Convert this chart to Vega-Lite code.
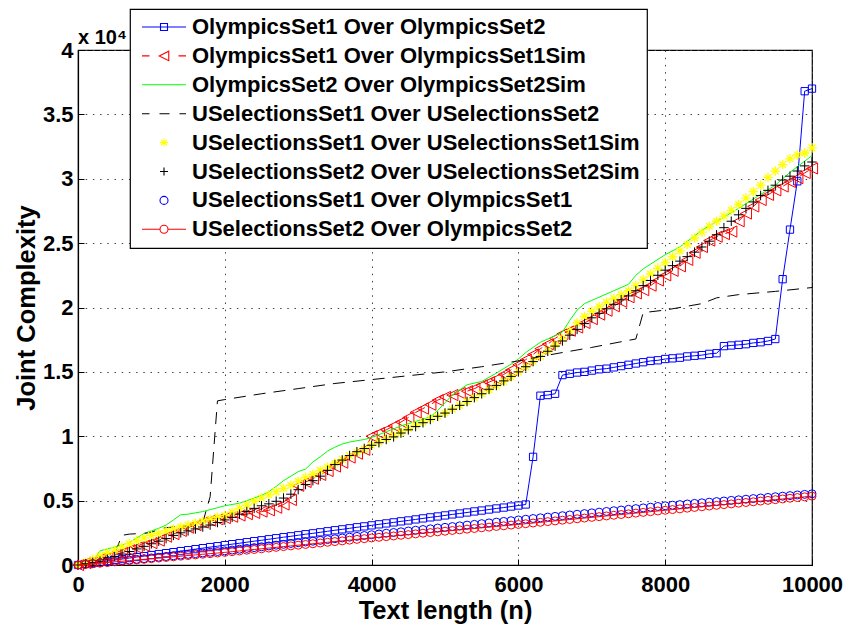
{
"$schema":"https://vega.github.io/schema/vega-lite/v6.json",
"width":734,"height":515,
"autosize":"none",
"padding":{"left":78,"top":50,"right":32,"bottom":60},
"background":"white",
"title":{"text":"x 10⁴","anchor":"start","frame":"group","fontSize":20,"fontWeight":"bold","font":"Liberation Sans","color":"black","offset":-56,"baseline":"alphabetic"},
"config":{
 "view":{"stroke":"black","strokeWidth":1.2},
 "axis":{"labelFont":"Liberation Sans","labelFontWeight":"bold","labelFontSize":22,"labelColor":"black","labelFlush":false,"titleFont":"Liberation Sans","titleFontWeight":"bold","titleFontSize":25.5,"titleColor":"black","domainColor":"black","domainWidth":1.2,"tickColor":"black","tickSize":-6,"gridColor":"#444","gridDash":[1.5,5.7],"gridWidth":1},
 "legend":{"orient":"none","legendX":52,"legendY":-41,"padding":7,"fillColor":"white","strokeColor":"black","strokeWidth":1.2,"labelFont":"Liberation Sans","labelFontSize":22,"labelFontWeight":"bold","labelColor":"black","labelAlign":"left","labelOffset":17,"symbolOffset":16,"symbolSize":100,"symbolStrokeWidth":1.1,"rowPadding":6.9,"labelLimit":1000}
},
"datasets":{
"a":[{"x":0,"y":0},{"x":100,"y":80},{"x":200,"y":150},{"x":300,"y":230},{"x":400,"y":310},{"x":500,"y":390},{"x":600,"y":460},{"x":700,"y":540},{"x":800,"y":620},{"x":900,"y":690},{"x":1000,"y":770},{"x":1100,"y":850},{"x":1200,"y":920},{"x":1300,"y":1000},{"x":1400,"y":1080},{"x":1500,"y":1150},{"x":1600,"y":1230},{"x":1700,"y":1310},{"x":1800,"y":1390},{"x":1900,"y":1460},{"x":2000,"y":1540},{"x":2100,"y":1620},{"x":2200,"y":1690},{"x":2300,"y":1770},{"x":2400,"y":1850},{"x":2500,"y":1920},{"x":2600,"y":2000},{"x":2700,"y":2080},{"x":2800,"y":2160},{"x":2900,"y":2230},{"x":3000,"y":2310},{"x":3100,"y":2390},{"x":3200,"y":2460},{"x":3300,"y":2540},{"x":3400,"y":2620},{"x":3500,"y":2700},{"x":3600,"y":2770},{"x":3700,"y":2850},{"x":3800,"y":2930},{"x":3900,"y":3000},{"x":4000,"y":3080},{"x":4100,"y":3160},{"x":4200,"y":3230},{"x":4300,"y":3310},{"x":4400,"y":3390},{"x":4500,"y":3460},{"x":4600,"y":3540},{"x":4700,"y":3620},{"x":4800,"y":3700},{"x":4900,"y":3770},{"x":5000,"y":3850},{"x":5100,"y":3930},{"x":5200,"y":4000},{"x":5300,"y":4080},{"x":5400,"y":4160},{"x":5500,"y":4230},{"x":5600,"y":4310},{"x":5700,"y":4390},{"x":5800,"y":4460},{"x":5900,"y":4540},{"x":6000,"y":4620},{"x":6100,"y":4700},{"x":6200,"y":8400},{"x":6300,"y":13150},{"x":6400,"y":13200},{"x":6500,"y":13300},{"x":6600,"y":14750},{"x":6700,"y":14850},{"x":6800,"y":14950},{"x":6900,"y":15000},{"x":7000,"y":15100},{"x":7100,"y":15200},{"x":7200,"y":15250},{"x":7300,"y":15350},{"x":7400,"y":15450},{"x":7500,"y":15550},{"x":7600,"y":15650},{"x":7700,"y":15750},{"x":7800,"y":15850},{"x":7900,"y":15900},{"x":8000,"y":16000},{"x":8100,"y":16050},{"x":8200,"y":16100},{"x":8300,"y":16200},{"x":8400,"y":16250},{"x":8500,"y":16300},{"x":8600,"y":16400},{"x":8700,"y":16450},{"x":8800,"y":17000},{"x":8900,"y":17050},{"x":9000,"y":17100},{"x":9100,"y":17150},{"x":9200,"y":17250},{"x":9300,"y":17300},{"x":9400,"y":17400},{"x":9500,"y":17550},{"x":9600,"y":22200},{"x":9700,"y":26050},{"x":9800,"y":29800},{"x":9900,"y":36800},{"x":10000,"y":37000}],
"b":[{"x":0,"y":0},{"x":100,"y":150},{"x":200,"y":300},{"x":300,"y":450},{"x":400,"y":600},{"x":500,"y":800},{"x":600,"y":950},{"x":700,"y":1150},{"x":800,"y":1350},{"x":900,"y":1500},{"x":1000,"y":1700},{"x":1100,"y":1900},{"x":1200,"y":2200},{"x":1300,"y":2400},{"x":1400,"y":2650},{"x":1500,"y":2900},{"x":1600,"y":3100},{"x":1700,"y":3300},{"x":1800,"y":3450},{"x":1900,"y":3550},{"x":2000,"y":3650},{"x":2100,"y":3750},{"x":2200,"y":3850},{"x":2300,"y":3950},{"x":2400,"y":4050},{"x":2500,"y":4150},{"x":2600,"y":4250},{"x":2700,"y":4450},{"x":2800,"y":4700},{"x":2900,"y":5050},{"x":3000,"y":6150},{"x":3100,"y":6450},{"x":3200,"y":6700},{"x":3300,"y":7000},{"x":3400,"y":7300},{"x":3500,"y":7650},{"x":3600,"y":7950},{"x":3700,"y":8350},{"x":3800,"y":8650},{"x":3900,"y":8950},{"x":4000,"y":10000},{"x":4100,"y":10250},{"x":4200,"y":10500},{"x":4300,"y":10800},{"x":4400,"y":11100},{"x":4500,"y":11450},{"x":4600,"y":11850},{"x":4700,"y":12150},{"x":4800,"y":12450},{"x":4900,"y":12800},{"x":5000,"y":13050},{"x":5100,"y":13200},{"x":5200,"y":13350},{"x":5300,"y":13500},{"x":5400,"y":13700},{"x":5500,"y":13950},{"x":5600,"y":14200},{"x":5700,"y":14450},{"x":5800,"y":14800},{"x":5900,"y":15150},{"x":6000,"y":15550},{"x":6100,"y":15950},{"x":6200,"y":16350},{"x":6300,"y":16800},{"x":6400,"y":17150},{"x":6500,"y":17600},{"x":6600,"y":17950},{"x":6700,"y":18200},{"x":6800,"y":18450},{"x":6900,"y":18800},{"x":7000,"y":19100},{"x":7100,"y":19450},{"x":7200,"y":19750},{"x":7300,"y":20100},{"x":7400,"y":20450},{"x":7500,"y":20800},{"x":7600,"y":21100},{"x":7700,"y":21350},{"x":7800,"y":21700},{"x":7900,"y":22100},{"x":8000,"y":22500},{"x":8100,"y":22850},{"x":8200,"y":23200},{"x":8300,"y":23700},{"x":8400,"y":24250},{"x":8500,"y":24700},{"x":8600,"y":25200},{"x":8700,"y":25500},{"x":8800,"y":25700},{"x":8900,"y":25900},{"x":9000,"y":26700},{"x":9100,"y":27300},{"x":9200,"y":27850},{"x":9300,"y":28350},{"x":9400,"y":28750},{"x":9500,"y":29100},{"x":9600,"y":29400},{"x":9700,"y":29750},{"x":9800,"y":30050},{"x":9900,"y":30450},{"x":10000,"y":30800}],
"c":[{"x":0,"y":0},{"x":100,"y":150},{"x":200,"y":350},{"x":250,"y":700},{"x":300,"y":1100},{"x":400,"y":1250},{"x":500,"y":1400},{"x":600,"y":1550},{"x":700,"y":1750},{"x":800,"y":2100},{"x":900,"y":2450},{"x":1000,"y":2650},{"x":1100,"y":2850},{"x":1200,"y":3100},{"x":1300,"y":3500},{"x":1400,"y":3900},{"x":1500,"y":3950},{"x":1600,"y":4050},{"x":1700,"y":4150},{"x":1800,"y":4300},{"x":1900,"y":4450},{"x":2000,"y":4600},{"x":2100,"y":4700},{"x":2200,"y":4800},{"x":2300,"y":5000},{"x":2400,"y":5200},{"x":2500,"y":5400},{"x":2600,"y":5700},{"x":2700,"y":6100},{"x":2800,"y":6550},{"x":2900,"y":6900},{"x":3000,"y":7250},{"x":3100,"y":7450},{"x":3200,"y":8000},{"x":3300,"y":8400},{"x":3400,"y":8850},{"x":3500,"y":9150},{"x":3600,"y":9400},{"x":3700,"y":9550},{"x":3800,"y":9650},{"x":3900,"y":9750},{"x":4000,"y":9900},{"x":4200,"y":10350},{"x":4400,"y":10800},{"x":4600,"y":11150},{"x":4800,"y":11500},{"x":4900,"y":12000},{"x":5000,"y":12600},{"x":5100,"y":13200},{"x":5200,"y":13600},{"x":5300,"y":14000},{"x":5500,"y":14250},{"x":5700,"y":14900},{"x":5900,"y":15600},{"x":6000,"y":16000},{"x":6100,"y":16500},{"x":6300,"y":17300},{"x":6500,"y":17800},{"x":6600,"y":18100},{"x":6700,"y":19000},{"x":6800,"y":19800},{"x":6900,"y":20300},{"x":7000,"y":20550},{"x":7300,"y":21300},{"x":7500,"y":21800},{"x":7600,"y":22500},{"x":7700,"y":23000},{"x":8000,"y":24100},{"x":8200,"y":24700},{"x":8500,"y":26000},{"x":9000,"y":27700},{"x":9500,"y":29500},{"x":9700,"y":30500},{"x":10000,"y":31800}],
"d":[{"x":0,"y":0},{"x":100,"y":150},{"x":200,"y":300},{"x":300,"y":450},{"x":400,"y":600},{"x":500,"y":900},{"x":600,"y":2300},{"x":700,"y":2400},{"x":800,"y":2430},{"x":900,"y":2450},{"x":1000,"y":2550},{"x":1100,"y":2750},{"x":1200,"y":2900},{"x":1300,"y":2950},{"x":1400,"y":3000},{"x":1500,"y":3050},{"x":1600,"y":3100},{"x":1700,"y":3300},{"x":1800,"y":5300},{"x":1900,"y":12750},{"x":2000,"y":12850},{"x":2500,"y":13300},{"x":3000,"y":13700},{"x":3500,"y":14100},{"x":4000,"y":14400},{"x":4500,"y":14700},{"x":5000,"y":15000},{"x":5500,"y":15400},{"x":6000,"y":15850},{"x":6500,"y":16400},{"x":7000,"y":16900},{"x":7500,"y":17450},{"x":7600,"y":17550},{"x":7700,"y":19600},{"x":8000,"y":19800},{"x":8300,"y":20100},{"x":8500,"y":20300},{"x":8700,"y":20750},{"x":9000,"y":21000},{"x":9500,"y":21250},{"x":10000,"y":21550}],
"e":[{"x":0,"y":0},{"x":100,"y":200},{"x":200,"y":450},{"x":300,"y":700},{"x":400,"y":950},{"x":500,"y":1150},{"x":600,"y":1400},{"x":700,"y":1650},{"x":800,"y":1900},{"x":900,"y":2100},{"x":1000,"y":2300},{"x":1100,"y":2450},{"x":1200,"y":2650},{"x":1300,"y":2800},{"x":1400,"y":2950},{"x":1500,"y":3100},{"x":1600,"y":3250},{"x":1700,"y":3400},{"x":1800,"y":3550},{"x":1900,"y":3700},{"x":2000,"y":3850},{"x":2100,"y":4100},{"x":2200,"y":4400},{"x":2300,"y":4650},{"x":2400,"y":4950},{"x":2500,"y":5200},{"x":2600,"y":5450},{"x":2700,"y":5700},{"x":2800,"y":5950},{"x":2900,"y":6200},{"x":3000,"y":6500},{"x":3100,"y":6800},{"x":3200,"y":7050},{"x":3300,"y":7350},{"x":3400,"y":7600},{"x":3500,"y":7900},{"x":3600,"y":8200},{"x":3700,"y":8500},{"x":3800,"y":8750},{"x":3900,"y":9000},{"x":4000,"y":9300},{"x":4100,"y":9550},{"x":4200,"y":9800},{"x":4300,"y":10050},{"x":4400,"y":10300},{"x":4500,"y":10600},{"x":4600,"y":10850},{"x":4700,"y":11100},{"x":4800,"y":11350},{"x":4900,"y":11550},{"x":5000,"y":11800},{"x":5100,"y":12100},{"x":5200,"y":12400},{"x":5300,"y":12700},{"x":5400,"y":13000},{"x":5500,"y":13300},{"x":5600,"y":13600},{"x":5700,"y":13900},{"x":5800,"y":14250},{"x":5900,"y":14600},{"x":6000,"y":15000},{"x":6100,"y":15400},{"x":6200,"y":15800},{"x":6300,"y":16200},{"x":6400,"y":16650},{"x":6500,"y":17100},{"x":6600,"y":17600},{"x":6700,"y":18200},{"x":6800,"y":18800},{"x":6900,"y":19300},{"x":7000,"y":19700},{"x":7100,"y":20050},{"x":7200,"y":20400},{"x":7300,"y":20700},{"x":7400,"y":21000},{"x":7500,"y":21300},{"x":7600,"y":21700},{"x":7700,"y":22150},{"x":7800,"y":22600},{"x":7900,"y":23050},{"x":8000,"y":23500},{"x":8100,"y":23950},{"x":8200,"y":24400},{"x":8300,"y":24900},{"x":8400,"y":25400},{"x":8500,"y":25850},{"x":8600,"y":26300},{"x":8700,"y":26700},{"x":8800,"y":27100},{"x":8900,"y":27550},{"x":9000,"y":28000},{"x":9100,"y":28500},{"x":9200,"y":29000},{"x":9300,"y":29500},{"x":9400,"y":30100},{"x":9500,"y":30600},{"x":9600,"y":31100},{"x":9700,"y":31550},{"x":9800,"y":31850},{"x":9900,"y":32000},{"x":10000,"y":32400}],
"f":[{"x":0,"y":0},{"x":100,"y":100},{"x":200,"y":200},{"x":300,"y":300},{"x":400,"y":450},{"x":500,"y":650},{"x":600,"y":850},{"x":700,"y":1050},{"x":800,"y":1250},{"x":900,"y":1450},{"x":1000,"y":1650},{"x":1100,"y":1850},{"x":1200,"y":2050},{"x":1300,"y":2300},{"x":1400,"y":2500},{"x":1500,"y":2650},{"x":1600,"y":2800},{"x":1700,"y":2950},{"x":1800,"y":3100},{"x":1900,"y":3300},{"x":2000,"y":3500},{"x":2100,"y":3700},{"x":2200,"y":3950},{"x":2300,"y":4150},{"x":2400,"y":4400},{"x":2500,"y":4600},{"x":2600,"y":4750},{"x":2700,"y":4950},{"x":2800,"y":5200},{"x":2900,"y":5500},{"x":3000,"y":5850},{"x":3100,"y":6250},{"x":3200,"y":6550},{"x":3300,"y":6900},{"x":3400,"y":7350},{"x":3500,"y":7800},{"x":3600,"y":8150},{"x":3700,"y":8500},{"x":3800,"y":8800},{"x":3900,"y":9050},{"x":4000,"y":9300},{"x":4100,"y":9500},{"x":4200,"y":9750},{"x":4300,"y":9950},{"x":4400,"y":10250},{"x":4500,"y":10500},{"x":4600,"y":10750},{"x":4700,"y":11050},{"x":4800,"y":11300},{"x":4900,"y":11550},{"x":5000,"y":11800},{"x":5100,"y":12100},{"x":5200,"y":12400},{"x":5300,"y":12700},{"x":5400,"y":13000},{"x":5500,"y":13300},{"x":5600,"y":13650},{"x":5700,"y":13950},{"x":5800,"y":14300},{"x":5900,"y":14650},{"x":6000,"y":15000},{"x":6100,"y":15400},{"x":6200,"y":15800},{"x":6300,"y":16200},{"x":6400,"y":16600},{"x":6500,"y":17000},{"x":6600,"y":17400},{"x":6700,"y":17850},{"x":6800,"y":18300},{"x":6900,"y":18750},{"x":7000,"y":19200},{"x":7100,"y":19550},{"x":7200,"y":19900},{"x":7300,"y":20250},{"x":7400,"y":20600},{"x":7500,"y":20900},{"x":7600,"y":21300},{"x":7700,"y":21700},{"x":7800,"y":22100},{"x":7900,"y":22500},{"x":8000,"y":22900},{"x":8100,"y":23250},{"x":8200,"y":23600},{"x":8300,"y":23950},{"x":8400,"y":24300},{"x":8500,"y":24700},{"x":8600,"y":25150},{"x":8700,"y":25650},{"x":8800,"y":26200},{"x":8900,"y":26700},{"x":9000,"y":27200},{"x":9100,"y":27700},{"x":9200,"y":28200},{"x":9300,"y":28700},{"x":9400,"y":29100},{"x":9500,"y":29500},{"x":9600,"y":29900},{"x":9700,"y":30200},{"x":9800,"y":30600},{"x":9900,"y":31000},{"x":10000,"y":31300}],
"g":[{"x":0,"y":0},{"x":100,"y":55},{"x":200,"y":110},{"x":300,"y":165},{"x":400,"y":220},{"x":500,"y":275},{"x":600,"y":330},{"x":700,"y":385},{"x":800,"y":440},{"x":900,"y":495},{"x":1000,"y":550},{"x":1100,"y":605},{"x":1200,"y":660},{"x":1300,"y":715},{"x":1400,"y":770},{"x":1500,"y":825},{"x":1600,"y":880},{"x":1700,"y":935},{"x":1800,"y":990},{"x":1900,"y":1045},{"x":2000,"y":1100},{"x":2100,"y":1160},{"x":2200,"y":1225},{"x":2300,"y":1290},{"x":2400,"y":1350},{"x":2500,"y":1415},{"x":2600,"y":1480},{"x":2700,"y":1540},{"x":2800,"y":1605},{"x":2900,"y":1670},{"x":3000,"y":1730},{"x":3100,"y":1790},{"x":3200,"y":1850},{"x":3300,"y":1915},{"x":3400,"y":1975},{"x":3500,"y":2040},{"x":3600,"y":2100},{"x":3700,"y":2160},{"x":3800,"y":2225},{"x":3900,"y":2290},{"x":4000,"y":2350},{"x":4100,"y":2410},{"x":4200,"y":2470},{"x":4300,"y":2525},{"x":4400,"y":2580},{"x":4500,"y":2640},{"x":4600,"y":2700},{"x":4700,"y":2755},{"x":4800,"y":2810},{"x":4900,"y":2870},{"x":5000,"y":2925},{"x":5100,"y":2985},{"x":5200,"y":3040},{"x":5300,"y":3100},{"x":5400,"y":3155},{"x":5500,"y":3210},{"x":5600,"y":3270},{"x":5700,"y":3330},{"x":5800,"y":3385},{"x":5900,"y":3440},{"x":6000,"y":3500},{"x":6100,"y":3555},{"x":6200,"y":3610},{"x":6300,"y":3665},{"x":6400,"y":3720},{"x":6500,"y":3775},{"x":6600,"y":3830},{"x":6700,"y":3885},{"x":6800,"y":3940},{"x":6900,"y":3995},{"x":7000,"y":4050},{"x":7100,"y":4105},{"x":7200,"y":4160},{"x":7300,"y":4215},{"x":7400,"y":4270},{"x":7500,"y":4325},{"x":7600,"y":4380},{"x":7700,"y":4435},{"x":7800,"y":4490},{"x":7900,"y":4545},{"x":8000,"y":4600},{"x":8100,"y":4645},{"x":8200,"y":4690},{"x":8300,"y":4740},{"x":8400,"y":4785},{"x":8500,"y":4830},{"x":8600,"y":4880},{"x":8700,"y":4925},{"x":8800,"y":4970},{"x":8900,"y":5020},{"x":9000,"y":5065},{"x":9100,"y":5110},{"x":9200,"y":5160},{"x":9300,"y":5205},{"x":9400,"y":5250},{"x":9500,"y":5300},{"x":9600,"y":5345},{"x":9700,"y":5390},{"x":9800,"y":5440},{"x":9900,"y":5485},{"x":10000,"y":5530}],
"h":[{"x":0,"y":0},{"x":100,"y":45},{"x":200,"y":95},{"x":300,"y":145},{"x":400,"y":195},{"x":500,"y":245},{"x":600,"y":290},{"x":700,"y":340},{"x":800,"y":390},{"x":900,"y":440},{"x":1000,"y":490},{"x":1100,"y":540},{"x":1200,"y":585},{"x":1300,"y":635},{"x":1400,"y":685},{"x":1500,"y":735},{"x":1600,"y":785},{"x":1700,"y":835},{"x":1800,"y":880},{"x":1900,"y":930},{"x":2000,"y":980},{"x":2100,"y":1035},{"x":2200,"y":1090},{"x":2300,"y":1150},{"x":2400,"y":1205},{"x":2500,"y":1260},{"x":2600,"y":1315},{"x":2700,"y":1370},{"x":2800,"y":1430},{"x":2900,"y":1485},{"x":3000,"y":1540},{"x":3100,"y":1595},{"x":3200,"y":1650},{"x":3300,"y":1710},{"x":3400,"y":1765},{"x":3500,"y":1820},{"x":3600,"y":1875},{"x":3700,"y":1930},{"x":3800,"y":1990},{"x":3900,"y":2045},{"x":4000,"y":2100},{"x":4100,"y":2150},{"x":4200,"y":2205},{"x":4300,"y":2255},{"x":4400,"y":2310},{"x":4500,"y":2360},{"x":4600,"y":2415},{"x":4700,"y":2470},{"x":4800,"y":2520},{"x":4900,"y":2575},{"x":5000,"y":2625},{"x":5100,"y":2680},{"x":5200,"y":2730},{"x":5300,"y":2785},{"x":5400,"y":2835},{"x":5500,"y":2890},{"x":5600,"y":2940},{"x":5700,"y":2995},{"x":5800,"y":3045},{"x":5900,"y":3100},{"x":6000,"y":3150},{"x":6100,"y":3205},{"x":6200,"y":3260},{"x":6300,"y":3315},{"x":6400,"y":3370},{"x":6500,"y":3425},{"x":6600,"y":3480},{"x":6700,"y":3535},{"x":6800,"y":3590},{"x":6900,"y":3645},{"x":7000,"y":3700},{"x":7100,"y":3755},{"x":7200,"y":3810},{"x":7300,"y":3865},{"x":7400,"y":3920},{"x":7500,"y":3975},{"x":7600,"y":4030},{"x":7700,"y":4085},{"x":7800,"y":4140},{"x":7900,"y":4195},{"x":8000,"y":4250},{"x":8100,"y":4305},{"x":8200,"y":4360},{"x":8300,"y":4415},{"x":8400,"y":4470},{"x":8500,"y":4525},{"x":8600,"y":4580},{"x":8700,"y":4635},{"x":8800,"y":4690},{"x":8900,"y":4745},{"x":9000,"y":4800},{"x":9100,"y":4855},{"x":9200,"y":4910},{"x":9300,"y":4965},{"x":9400,"y":5020},{"x":9500,"y":5075},{"x":9600,"y":5130},{"x":9700,"y":5185},{"x":9800,"y":5240},{"x":9900,"y":5295},{"x":10000,"y":5350}]
},
"encoding":{
 "x":{"field":"x","type":"quantitative","scale":{"domain":[0,10000],"nice":false},"axis":{"title":"Text length (n)","values":[0,2000,4000,6000,8000,10000],"format":"d","labelPadding":15,"titlePadding":3}},
 "y":{"field":"y","type":"quantitative","scale":{"domain":[0,40000],"nice":false},"axis":{"title":"Joint Complexity","values":[0,5000,10000,15000,20000,25000,30000,35000,40000],"labelExpr":"format(datum.value/10000,'~g')","labelPadding":11,"titlePadding":3}}
},
"layer":[
 {"data":{"name":"a"},"mark":{"type":"line","color":"#0000ff","strokeWidth":1}},
 {"data":{"name":"a"},"mark":{"type":"point","shape":"square","filled":false,"color":"#0000ff","size":53,"strokeWidth":1,"opacity":1}},
 {"data":{"name":"b"},"mark":{"type":"line","color":"#ff0000","strokeWidth":1,"strokeDash":[11,8]}},
 {"data":{"name":"b"},"mark":{"type":"point","shape":"M-1,0L1,-1L1,1Z","filled":false,"color":"#ff0000","size":125,"strokeWidth":1,"opacity":1}},
 {"data":{"name":"c"},"mark":{"type":"line","color":"#00ff00","strokeWidth":1}},
 {"data":{"name":"d"},"mark":{"type":"line","color":"#000000","strokeWidth":1,"strokeDash":[12,8]}},
 {"data":{"name":"e"},"mark":{"type":"point","shape":"M-1,0H1M0,-1V1M-0.7,-0.7L0.7,0.7M-0.7,0.7L0.7,-0.7","filled":false,"color":"#ffff00","size":90,"strokeWidth":1.3,"opacity":1}},
 {"data":{"name":"f"},"mark":{"type":"point","shape":"M-1,0H1M0,-1V1","filled":false,"color":"#000000","size":90,"strokeWidth":1,"opacity":1}},
 {"data":{"name":"g"},"mark":{"type":"point","shape":"circle","filled":false,"color":"#0000ff","size":64,"strokeWidth":1,"opacity":1}},
 {"data":{"name":"h"},"mark":{"type":"line","color":"#ff0000","strokeWidth":1}},
 {"data":{"name":"h"},"mark":{"type":"point","shape":"circle","filled":false,"color":"#ff0000","size":64,"strokeWidth":1,"opacity":1}},
 {"data":{"name":"h"},"transform":[{"filter":"false"}],
  "mark":{"type":"point","filled":false,"opacity":1},
  "encoding":{
   "shape":{"field":"name","type":"nominal","scale":{"domain":["OlympicsSet1 Over OlympicsSet2","OlympicsSet1 Over OlympicsSet1Sim","OlympicsSet2 Over OlympicsSet2Sim","USelectionsSet1 Over USelectionsSet2","USelectionsSet1 Over USelectionsSet1Sim","USelectionsSet2 Over USelectionsSet2Sim","USelectionsSet1 Over OlympicsSet1","USelectionsSet2 Over OlympicsSet2"],"range":["M-4.4,0H4.4M-0.7,-0.7H0.7V0.7H-0.7Z","M-4.4,0H-2.9M2.9,0H4.4M-0.95,0L0.95,-0.95V0.95Z","M-4.4,0H4.4","M-4.4,0H-2.9M-0.9,0H1.1M3.1,0H4.4","M-0.8,0H0.8M0,-0.8V0.8M-0.57,-0.57L0.57,0.57M-0.57,0.57L0.57,-0.57","M-0.8,0H0.8M0,-0.8V0.8","M0.8,0A0.8,0.8,0,1,1,-0.8,0A0.8,0.8,0,1,1,0.8,0Z","M-4.4,0H-0.8M0.8,0H4.4M0.8,0A0.8,0.8,0,1,1,-0.8,0A0.8,0.8,0,1,1,0.8,0Z"]},"legend":{"title":null}},
   "stroke":{"field":"name","type":"nominal","scale":{"domain":["OlympicsSet1 Over OlympicsSet2","OlympicsSet1 Over OlympicsSet1Sim","OlympicsSet2 Over OlympicsSet2Sim","USelectionsSet1 Over USelectionsSet2","USelectionsSet1 Over USelectionsSet1Sim","USelectionsSet2 Over USelectionsSet2Sim","USelectionsSet1 Over OlympicsSet1","USelectionsSet2 Over OlympicsSet2"],"range":["#0000ff","#ff0000","#00ff00","#000000","#ffff00","#000000","#0000ff","#ff0000"]},"legend":{"title":null}}
  }}
]
}
